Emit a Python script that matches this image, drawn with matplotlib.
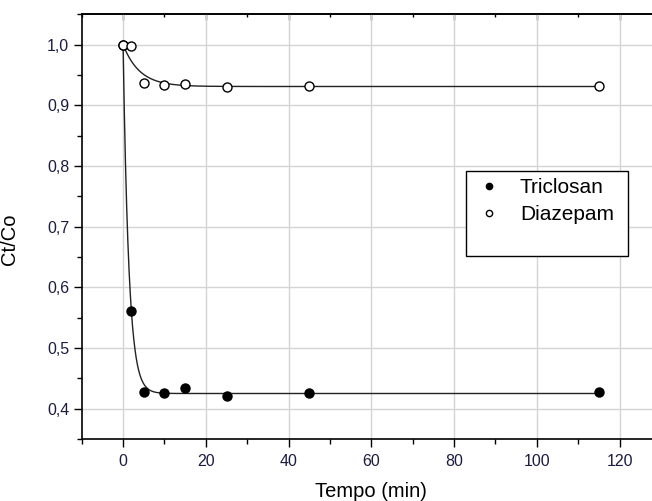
import numpy as np
import matplotlib
matplotlib.use('Agg')
import matplotlib.pyplot as plt
from matplotlib.lines import Line2D
from matplotlib.ticker import MultipleLocator, FixedLocator, FuncFormatter

# ---- data ----
time_min = [0, 2, 5, 10, 15, 25, 45, 115]
triclosan = [1.0, 0.561, 0.428, 0.425, 0.434, 0.421, 0.425, 0.427]
diazepam = [1.0, 0.998, 0.936, 0.933, 0.935, 0.930, 0.932, 0.931]

# first-order decay fits shown as curves: C = plateau + (1 - plateau) * exp(-k t)
triclosan_plateau, triclosan_k = 0.425, 0.72
diazepam_plateau, diazepam_k = 0.931, 0.25

x_ticks = [0, 20, 40, 60, 80, 100, 120]
y_ticks = [0.4, 0.5, 0.6, 0.7, 0.8, 0.9, 1.0]
series_labels = ["Triclosan", "Diazepam"]
x_label = "Tempo (min)"
y_label = "Ct/Co"

plt.rcParams['font.family'] = ['Liberation Sans', 'DejaVu Sans']

fig = plt.figure(figsize=(6.52, 5.01), dpi=100)
L, B = 81.7 / 652, (501 - 439) / 501
W, H = (661 - 81.7) / 652, (439 - 14.3) / 501
ax = fig.add_axes([L, B, W, H])

ax.set_xlim(-10, 130)
ax.set_ylim(0.35, 1.05)

tick_color = '#1c1c40'
ax.xaxis.set_major_locator(FixedLocator(x_ticks))
ax.xaxis.set_minor_locator(MultipleLocator(10))
ax.yaxis.set_major_locator(FixedLocator(y_ticks))
ax.yaxis.set_minor_locator(MultipleLocator(0.05))
ax.yaxis.set_major_formatter(FuncFormatter(lambda v, p: f"{v:.1f}".replace('.', ',')))

ax.tick_params(which='major', direction='out', length=6, width=1.0,
               labelsize=11.5, labelcolor=tick_color)
ax.tick_params(axis='x', which='major', pad=5)
ax.tick_params(axis='y', which='major', pad=3)
ax.tick_params(which='minor', direction='out', length=3.3, width=1.0)

for s in ax.spines.values():
    s.set_linewidth(1.2)

ax.grid(True, which='major', color='#d4d4d4', linewidth=1.0)
ax.set_axisbelow(True)

# inward ticks on top spine
top = ax.secondary_xaxis('top')
top.xaxis.set_major_locator(FixedLocator(x_ticks))
top.xaxis.set_minor_locator(MultipleLocator(10))
top.tick_params(which='major', direction='in', length=4.5, width=1.0, labeltop=False)
top.tick_params(which='minor', direction='in', length=2.5, width=1.0)
top.spines['top'].set_linewidth(1.2)

# fit curves
tt = np.linspace(0, max(time_min), 1200)
tri_fit = triclosan_plateau + (1 - triclosan_plateau) * np.exp(-triclosan_k * tt)
dia_fit = diazepam_plateau + (1 - diazepam_plateau) * np.exp(-diazepam_k * tt)
ax.plot(tt, tri_fit, color='#222222', lw=1.0, zorder=3)
ax.plot(tt, dia_fit, color='#222222', lw=1.0, zorder=3)

ax.plot(time_min, triclosan, 'o', color='black', ms=6.5, zorder=4, label=series_labels[0])
ax.plot(time_min, diazepam, 'o', mfc='white', mec='black', mew=1.0, ms=6.5, zorder=5,
        label=series_labels[1])

ax.set_xlabel(x_label, fontsize=14.5, labelpad=9)
ax.set_ylabel(y_label, fontsize=14.5)
ax.yaxis.set_label_coords(-0.108, 0.47)

h1 = Line2D([], [], marker='o', ls='none', color='black', ms=4.5)
h2 = Line2D([], [], marker='o', ls='none', mfc='white', mec='black', mew=1.0, ms=4.5)
h3 = Line2D([], [], ls='none')
leg = fig.legend([h1, h2, h3], series_labels + [' '],
                 loc='upper left',
                 bbox_to_anchor=(465.7 / 652, 1 - 171 / 501, (627.7 - 465.7) / 652, 0.0),
                 mode='expand', borderaxespad=0, fontsize=15, frameon=True, fancybox=False,
                 edgecolor='black', framealpha=1, borderpad=0.35, handlelength=1.5,
                 handletextpad=0.75, labelspacing=0.38)
leg.get_frame().set_linewidth(1.0)
leg.get_texts()[2].set_fontsize(6)

fig.savefig('out.png', dpi=100)
